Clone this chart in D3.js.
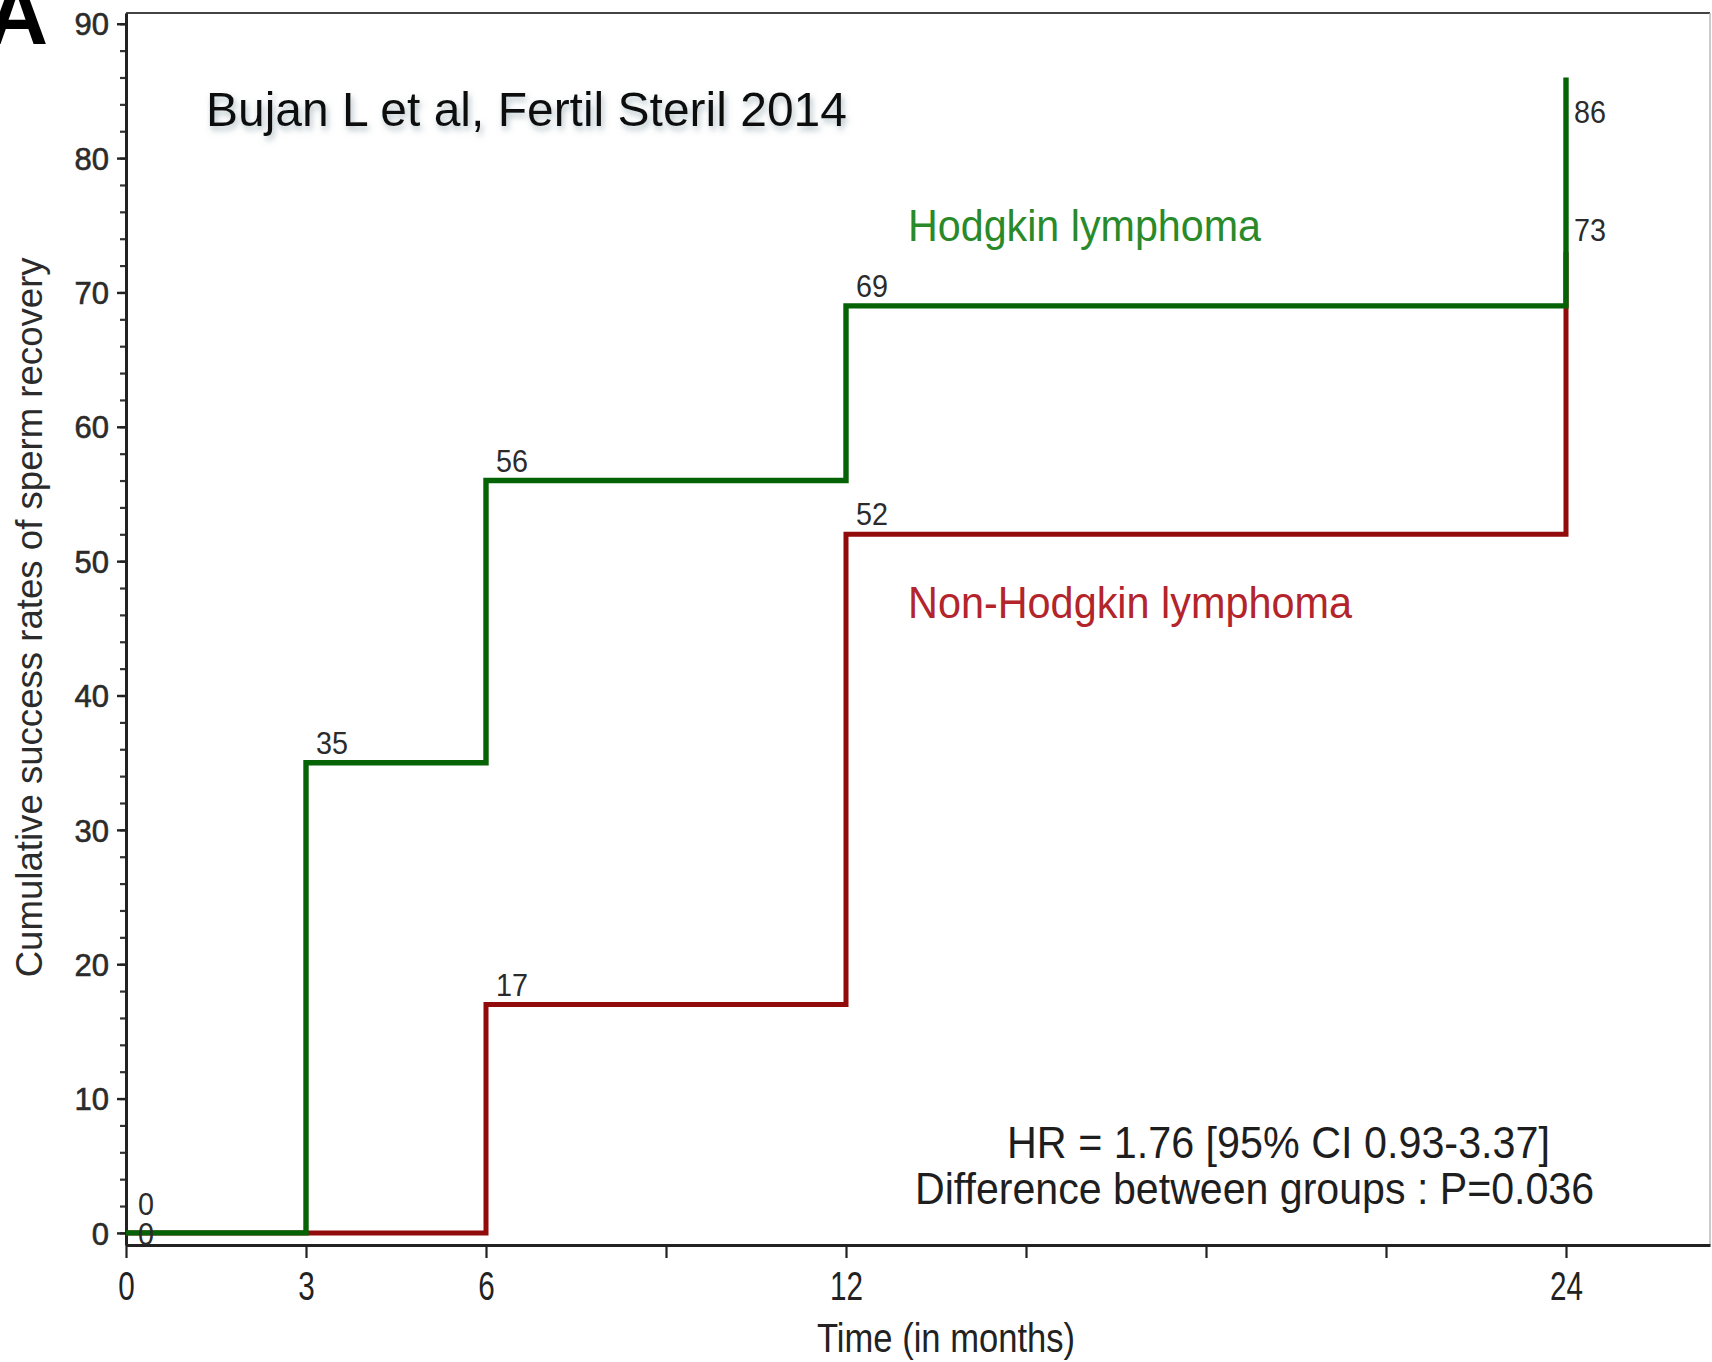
<!DOCTYPE html>
<html><head><meta charset="utf-8">
<script src="https://cdn.jsdelivr.net/npm/d3@7"></script>
<style>
html,body{margin:0;padding:0;background:#fff;overflow:hidden;}
svg{display:block;}
text{font-family:"Liberation Sans", Arial, Helvetica, sans-serif;}
</style></head><body>
<svg id="chart" width="1712" height="1362"></svg>
<script>
// ---- data ----
const months = [0, 3, 6, 12, 24];
const hodgkin = [0, 35, 56, 69, 86];
const nonHodgkin = [0, 0, 17, 52, 73];
const seriesNames = ["Hodgkin lymphoma", "Non-Hodgkin lymphoma"];
const xTickValues = [0, 3, 6, 9, 12, 15, 18, 21, 24];
const xTickLabels = ["0", "3", "6", "", "12", "", "", "", "24"];
const yMajorTicks = [0, 10, 20, 30, 40, 50, 60, 70, 80, 90];
const yMinorTicks = [0,2,4,6,8,10,12,14,16,18,20,22,24,26,28,30,32,34,36,38,40,42,44,46,48,50,52,54,56,58,60,62,64,66,68,70,72,74,76,78,80,82,84,86,88,90];
const xTitle = "Time (in months)";
const yTitle = "Cumulative success rates of sperm recovery";
const citation = "Bujan L et al, Fertil Steril 2014";
const statLines = ["HR = 1.76 [95% CI 0.93-3.37]", "Difference between groups : P=0.036"];
const panelLetter = "A";

// ---- layout ----
const W = 1712, H = 1362;
const plot = {left: 126, right: 1710, top: 13, bottom: 1245};
const xDomainMax = 26.4, yDomain = [-0.9, 90.8];
const lineColors = ["#056205", "#920b0b"];
const textColors = ["#2a8a2a", "#b3242b"];

const svg = d3.select("#chart");
svg.append("rect").attr("width", W).attr("height", H).attr("fill", "#fff");

const defs = svg.append("defs");
const f = defs.append("filter").attr("id", "shadow").attr("x", "-10%").attr("y", "-40%").attr("width", "120%").attr("height", "180%");
f.append("feDropShadow").attr("dx", 2).attr("dy", 4).attr("stdDeviation", 3).attr("flood-color", "#6f8a94").attr("flood-opacity", 0.55);

const x = d3.scaleLinear().domain([0, xDomainMax]).range([plot.left, plot.right]);
const y = d3.scaleLinear().domain(yDomain).range([plot.bottom, plot.top]);

// frame (top & right)
svg.append("line").attr("x1", plot.left).attr("x2", plot.right).attr("y1", plot.top).attr("y2", plot.top)
  .attr("stroke", "#444").attr("stroke-width", 2.2);
svg.append("line").attr("x1", plot.right).attr("x2", plot.right).attr("y1", plot.top).attr("y2", plot.bottom)
  .attr("stroke", "#aaa").attr("stroke-width", 1.2);

// y axis: minor ticks
const yMinor = d3.axisLeft(y).tickValues(yMinorTicks).tickSize(6).tickFormat("").tickSizeOuter(0);
svg.append("g").attr("transform", `translate(${plot.left},0)`).call(yMinor)
  .call(g => g.select(".domain").remove())
  .call(g => g.selectAll("line").attr("stroke", "#333").attr("stroke-width", 2.2));
// y axis: major ticks
const yAxis = d3.axisLeft(y).tickValues(yMajorTicks).tickSize(9).tickPadding(8).tickSizeOuter(0);
svg.append("g").attr("transform", `translate(${plot.left},0)`).call(yAxis)
  .call(g => g.select(".domain").attr("stroke", "#222").attr("stroke-width", 3))
  .call(g => g.selectAll("line").attr("stroke", "#222").attr("stroke-width", 2.4))
  .call(g => g.selectAll("text").attr("font-size", 31).attr("fill", "#2b2b2b")
    .attr("font-family", '"Liberation Sans", Arial, sans-serif').attr("dy", "0.36em")
    .attr("stroke", "#2b2b2b").attr("stroke-width", 0.6));

// x axis
const xAxis = d3.axisBottom(x).tickValues(xTickValues).tickSize(13).tickPadding(14).tickSizeOuter(0)
  .tickFormat((d, i) => xTickLabels[i]);
svg.append("g").attr("transform", `translate(0,${plot.bottom})`).call(xAxis)
  .call(g => g.select(".domain").attr("stroke", "#222").attr("stroke-width", 3.2))
  .call(g => g.selectAll("line").attr("stroke", "#222").attr("stroke-width", 2.2))
  .call(g => g.selectAll("text").attr("font-size", 40).attr("fill", "#222")
    .attr("font-family", '"Liberation Sans", Arial, sans-serif').attr("dy", "0.71em")
    .each(function(d, i) { const t = xTickLabels[i]; if (t) d3.select(this).attr("textLength", t.length * 16.5).attr("lengthAdjust", "spacingAndGlyphs"); }));

// axis titles
svg.append("text").attr("x", 946).attr("y", 1352)
  .attr("text-anchor", "middle").attr("font-size", 41).attr("fill", "#222")
  .attr("textLength", 258).attr("lengthAdjust", "spacingAndGlyphs").text(xTitle);
svg.append("text").attr("transform", `translate(42,${(y(0) + y(90)) / 2 - 11}) rotate(-90)`)
  .attr("text-anchor", "middle").attr("font-size", 36).attr("fill", "#2b2b2b")
  .attr("textLength", 720).attr("lengthAdjust", "spacingAndGlyphs").text(yTitle);

// step lines (green drawn last, on top)
const series = [hodgkin, nonHodgkin];
const line = d3.line().x(d => x(d[0])).y(d => y(d[1])).curve(d3.curveStepAfter);
[1, 0].forEach(si => {
  svg.append("path").datum(months.map((m, i) => [m, series[si][i]]))
    .attr("d", line).attr("fill", "none").attr("stroke", lineColors[si])
    .attr("stroke-width", si === 0 ? 5.4 : 5).attr("stroke-linejoin", "miter").attr("stroke-linecap", "butt");
});

// value labels
const labelGroup = svg.append("g").attr("font-size", 31).attr("fill", "#2b2b2b");
series.forEach((vals, si) => {
  vals.forEach((v, i) => {
    if (i > 0 && v === vals[i - 1]) return;
    const last = i === vals.length - 1;
    let lx, ly;
    if (i === 0) { lx = x(months[i]) + 12; ly = si === 0 ? y(v) - 18 : y(v) + 12; }
    else if (last) { lx = x(months[i]) + 8; ly = si === 0 ? y(v) + 46 : y(v) - 11; }
    else { lx = x(months[i]) + 10; ly = y(v) - 9; }
    labelGroup.append("text").attr("x", lx).attr("y", ly).text(String(v))
      .attr("textLength", String(v).length * 16).attr("lengthAdjust", "spacingAndGlyphs");
  });
});

// series name labels
svg.append("text").attr("x", x(13) + 2).attr("y", 241).attr("font-size", 44).attr("fill", textColors[0])
  .attr("textLength", 353).attr("lengthAdjust", "spacingAndGlyphs").text(seriesNames[0]);
svg.append("text").attr("x", x(13) + 2).attr("y", 618).attr("font-size", 44).attr("fill", textColors[1])
  .attr("textLength", 444).attr("lengthAdjust", "spacingAndGlyphs").text(seriesNames[1]);

// stats
svg.append("text").attr("x", 1007).attr("y", 1158).attr("font-size", 44).attr("fill", "#1e1e1e")
  .attr("textLength", 543).attr("lengthAdjust", "spacingAndGlyphs").text(statLines[0]);
svg.append("text").attr("x", 915).attr("y", 1204).attr("font-size", 44).attr("fill", "#1e1e1e")
  .attr("textLength", 679).attr("lengthAdjust", "spacingAndGlyphs").text(statLines[1]);

// citation
svg.append("text").attr("x", 206).attr("y", 126).attr("font-size", 48).attr("fill", "#111")
  .attr("filter", "url(#shadow)")
  .attr("textLength", 641).attr("lengthAdjust", "spacingAndGlyphs").text(citation);

// panel letter
svg.append("text").attr("x", -14).attr("y", 44).attr("font-size", 86).attr("font-weight", "bold")
  .attr("fill", "#000").text(panelLetter);
</script>
</body></html>
